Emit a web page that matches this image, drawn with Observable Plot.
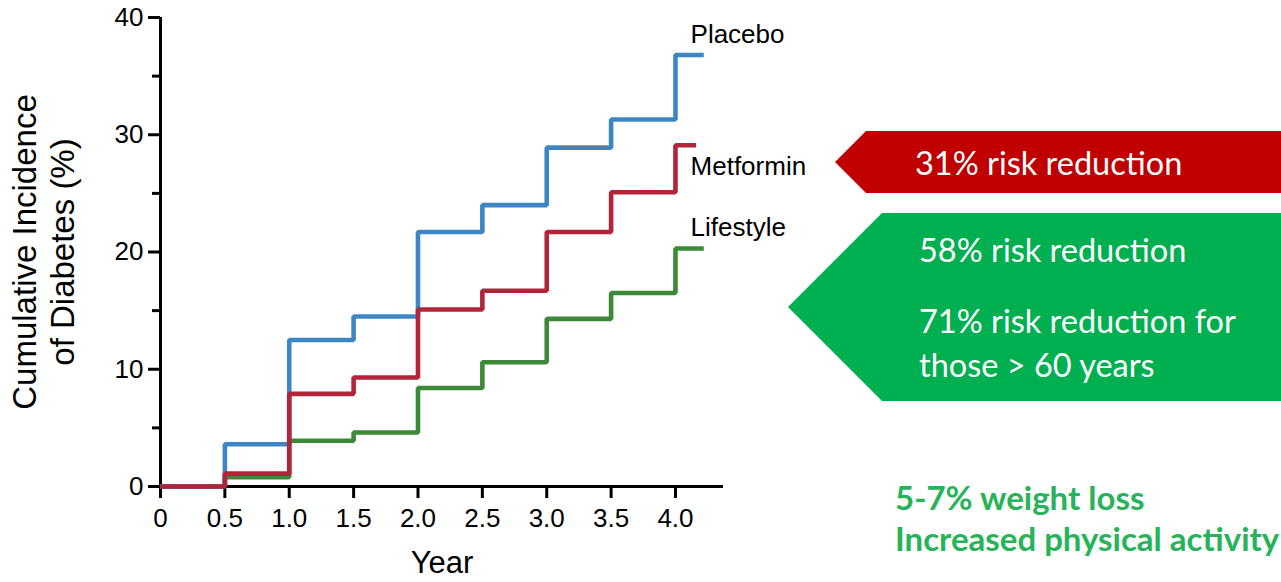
<!DOCTYPE html>
<html>
<head>
<meta charset="utf-8">
<script src="https://cdn.jsdelivr.net/npm/d3@7"></script>
<script src="https://cdn.jsdelivr.net/npm/@observablehq/plot@0.6"></script>
<style>
  body { margin: 0; background: #fff; }
  #wrap { position: relative; width: 1281px; height: 582px; overflow: hidden; }
  #wrap > svg { position: absolute; left: 0; top: 0; }
</style>
</head>
<body>
<div id="wrap"></div>
<script>
// ---- data ----
const years = [0, 0.5, 1, 1.5, 2, 2.5, 3, 3.5, 4];
const placebo   = [0, 3.6, 12.5, 14.5, 21.7, 24.0, 28.9, 31.3, 36.8];
const metformin = [0, 1.1,  7.9,  9.3, 15.1, 16.7, 21.7, 25.1, 29.1];
const lifestyle = [0, 0.8,  3.9,  4.6,  8.4, 10.6, 14.3, 16.5, 20.3];
const seriesNames = ["Lifestyle", "Placebo", "Metformin"];
const seriesValues = [lifestyle, placebo, metformin];
const seriesEnds = [4.22, 4.22, 4.16];
const seriesColors = ["#3c8a37", "#3c87c3", "#b2243a"];
const xTicks = [0, 0.5, 1, 1.5, 2, 2.5, 3, 3.5, 4];
const yTicks = [0, 10, 20, 30, 40];
const yMinorTicks = [5, 15, 25, 35];
const yLabel = "Cumulative Incidence\nof Diabetes (%)";
const xLabel = "Year";
const redTexts = ["31% risk reduction"];
const greenTexts = ["58% risk reduction", "71% risk reduction for", "those > 60 years"];
const noteTexts = ["5-7% weight loss", "Increased physical activity"];

// ---- build table ----
const rows = [];
seriesNames.forEach((name, s) => {
  years.forEach((x, i) => rows.push({series: name, x, y: seriesValues[s][i]}));
  rows.push({series: name, x: seriesEnds[s], y: seriesValues[s][seriesValues[s].length - 1]});
});
const labelRows = [
  {series: "Placebo", y: placebo[8], off: 1.7},
  {series: "Metformin", y: metformin[8], off: -1.8},
  {series: "Lifestyle", y: lifestyle[8], off: 1.8}
].map(d => ({series: d.series, y: d.y + d.off, x: 4.117}));

const chart = Plot.plot({
  width: 1281,
  height: 582,
  marginLeft: 160,
  marginRight: 558,
  marginTop: 17,
  marginBottom: 96,
  style: {fontFamily: "'Liberation Sans', Arial, sans-serif", fontSize: "26px", background: "transparent", color: "#000"},
  x: {domain: [0, 4.373]},
  y: {domain: [0, 40]},
  color: {domain: seriesNames, range: seriesColors},
  marks: [
    Plot.axisX(xTicks, {tickSize: 12, tickPadding: 10, strokeWidth: 3, label: null, fontSize: 26,
      tickFormat: d => d === 0 ? "0" : d.toFixed(1)}),
    Plot.axisY(yTicks, {tickSize: 12, tickPadding: 5, strokeWidth: 3, label: null, fontSize: 26}),
    Plot.axisY(yMinorTicks, {tickSize: 8, strokeWidth: 3, label: null, tickFormat: () => ""}),
    Plot.ruleY([0], {strokeWidth: 3}),
    Plot.ruleX([0], {strokeWidth: 3}),
    Plot.line(rows, {x: "x", y: "y", z: "series", stroke: "series", curve: "step-after",
      strokeWidth: 4.6, strokeLinejoin: "miter", strokeLinecap: "butt"}),
    Plot.text(labelRows, {x: "x", y: "y", text: "series", textAnchor: "start", fill: "#000", fontSize: 26}),
    Plot.text([yLabel], {frameAnchor: "left", textAnchor: "middle", dx: -118, rotate: -90, fontSize: 33, lineHeight: 1.15, fill: "#000"}),
    Plot.text([xLabel], {frameAnchor: "bottom", lineAnchor: "middle", dy: 77, fontSize: 31, fill: "#000"})
  ]
});
const wrap = document.getElementById("wrap");
wrap.appendChild(chart);

// ---- right-hand annotation overlay ----
const svg = d3.select(wrap).append("svg")
  .attr("width", 1281).attr("height", 582)
  .style("font-family", "Lato, 'Open Sans', sans-serif");
svg.append("polygon")
  .attr("points", "866,131 1281,131 1281,193 866,193 835,162")
  .attr("fill", "#c00000");
svg.append("polygon")
  .attr("points", "882,213 1281,213 1281,401 882,401 788,307")
  .attr("fill", "#00b050");
svg.selectAll("text.red").data(redTexts).join("text")
  .attr("x", 915).attr("y", 175).attr("fill", "#fff").attr("font-size", 32.5).text(d => d);
const gy = [262, 333, 377];
svg.selectAll("text.green").data(greenTexts).join("text")
  .attr("x", 919).attr("y", (d, i) => gy[i]).attr("fill", "#fff").attr("font-size", 32.5).text(d => d);
const ny = [510, 551];
svg.selectAll("text.note").data(noteTexts).join("text")
  .attr("x", 895).attr("y", (d, i) => ny[i]).attr("fill", "#27b35a").attr("font-weight", "bold")
  .attr("font-size", 33).text(d => d);
</script>
</body>
</html>
